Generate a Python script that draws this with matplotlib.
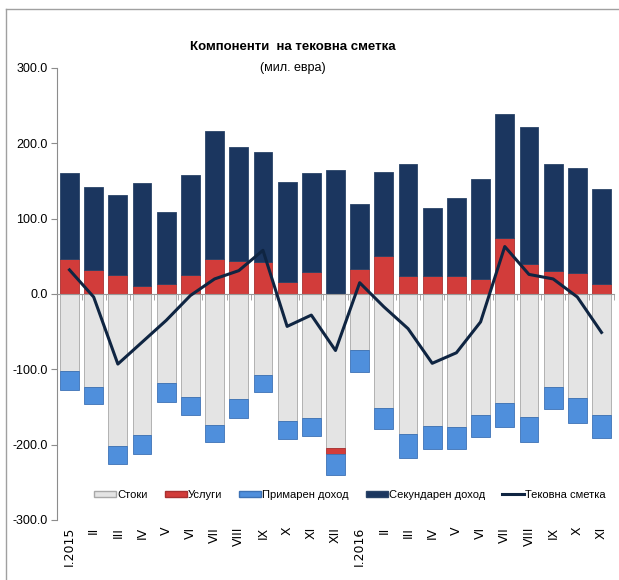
import numpy as np
import matplotlib.pyplot as plt
from matplotlib.lines import Line2D
from matplotlib.patches import Patch

# категории (месеци)
months = ['I.2015', 'II', 'III', 'IV', 'V', 'VI', 'VII', 'VIII', 'IX', 'X', 'XI', 'XII',
          'I.2016', 'II', 'III', 'IV', 'V', 'VI', 'VII', 'VIII', 'IX', 'X', 'XI']

# компоненти, мил. евра (прочитано од графикот)
goods = [-102, -123, -202, -187, -118, -137, -174, -140, -107, -169, -165, -205,
         -74, -151, -186, -175, -177, -160, -145, -163, -123, -138, -161]
services = [47, 32, 25, 11, 13, 25, 47, 44, 42, 16, 29, -8,
            33, 51, 24, 24, 24, 20, 74, 40, 31, 28, 13]
primary = [-26, -23, -23, -25, -26, -23, -23, -24, -23, -23, -23, -27,
           -30, -28, -32, -31, -29, -30, -31, -33, -29, -33, -30]
secondary = [113, 110, 107, 137, 96, 133, 170, 151, 146, 133, 131, 165,
             86, 111, 148, 90, 104, 133, 165, 182, 141, 139, 127]

names = ['Стоки', 'Услуги', 'Примарен доход', 'Секундарен доход']
colors = ['#e4e4e4', '#d23c3a', '#4f8fdc', '#1b365f']
edges = ['#a8a8a8', '#a83030', '#3d72b5', '#2a4468']
line_name = 'Тековна сметка'
line_color = '#0f2542'

series = [np.array(goods), np.array(services), np.array(primary), np.array(secondary)]
net = sum(series)

plt.rcParams['font.family'] = ['Liberation Sans', 'DejaVu Sans']

fig = plt.figure(figsize=(6.19, 5.8), dpi=100)
ax = fig.add_axes([57.4 / 619, 1 - 520 / 580, (613.6 - 57.4) / 619, (520 - 68) / 580])

x = np.arange(len(months))
pos = np.zeros(len(months))
neg = np.zeros(len(months))
for vals, c, ec in zip(series, colors, edges):
    bottom = np.where(vals >= 0, pos, neg)
    ax.bar(x, vals, 0.78, bottom=bottom, color=c, edgecolor=ec, linewidth=0.6, zorder=2)
    pos = pos + np.where(vals >= 0, vals, 0)
    neg = neg + np.where(vals < 0, vals, 0)

ax.plot(x, net, color=line_color, linewidth=2.2, zorder=3)

ax.set_xlim(-0.5, len(months) - 0.5)
ax.set_ylim(-300, 300)
ax.set_yticks(np.arange(-300, 301, 100))
ax.set_yticklabels(['%.1f' % v for v in np.arange(-300, 301, 100)], fontsize=9)

for s in ['top', 'right']:
    ax.spines[s].set_visible(False)
ax.spines['left'].set_color('#8c8c8c')
ax.spines['bottom'].set_position(('data', 0))
ax.spines['bottom'].set_color('#9a9a9a')
ax.tick_params(axis='y', length=4, color='#8c8c8c', pad=3)
ax.set_xticks([])
ax.set_xticks(np.arange(-0.5, len(months)), minor=True)
ax.tick_params(axis='x', which='minor', length=4, color='#9a9a9a', direction='out')

for i, m in enumerate(months):
    ax.text(i, -309, m, rotation=90, ha='center', va='top', fontsize=9,
            family='DejaVu Sans', clip_on=False)

fig.text(293 / 619, 1 - 47 / 580, 'Компоненти  на тековна сметка', ha='center', va='center',
         fontsize=9.5, fontweight='bold')
fig.text(293 / 619, 1 - 68 / 580, '(мил. евра)', ha='center', va='center', fontsize=9)

handles = [Patch(facecolor=c, edgecolor=ec, label=n) for c, ec, n in zip(colors, edges, names)]
handles.append(Line2D([], [], color=line_color, linewidth=2.2, label=line_name))
ax.legend(handles=handles, loc='center', bbox_to_anchor=(350 / 619, 1 - 495 / 580),
          bbox_transform=fig.transFigure, ncol=5, frameon=False, fontsize=8,
          handlelength=2.0, handleheight=0.5, handletextpad=0.1, columnspacing=1.5)

# рамка
fig.add_artist(Line2D([6 / 619, 6 / 619], [0, 1 - 9 / 580], transform=fig.transFigure,
                      color='#a0a0a0', linewidth=1))
fig.add_artist(Line2D([6 / 619, 1], [1 - 9 / 580, 1 - 9 / 580], transform=fig.transFigure,
                      color='#a0a0a0', linewidth=1))

fig.savefig('out.png', dpi=100)
